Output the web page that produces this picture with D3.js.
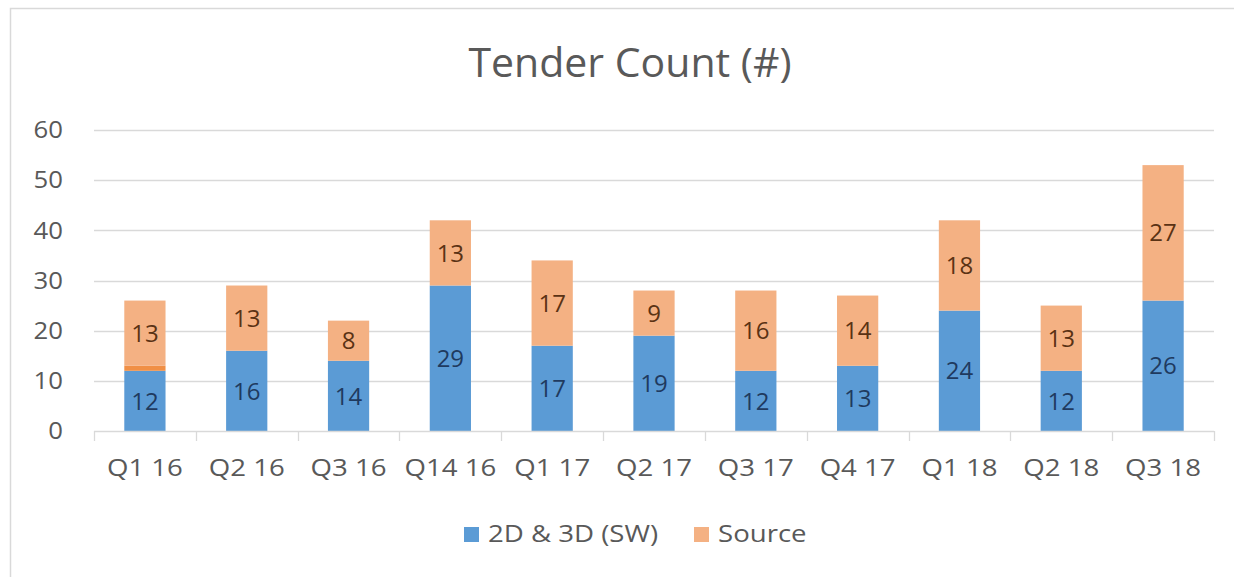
<!DOCTYPE html>
<html>
<head>
<meta charset="utf-8">
<script src="https://cdn.jsdelivr.net/npm/d3@7"></script>
<style>
  html, body { margin: 0; padding: 0; background: #fff; }
  svg { display: block; font-family: "Open Sans", "Noto Sans", sans-serif; }
</style>
</head>
<body>
<svg id="chart" width="1234" height="577"></svg>
<script>
(function(){

const WIDTH = 1234, HEIGHT = 577;

// data
const quarters = ['Q1 16','Q2 16','Q3 16','Q14 16','Q1 17','Q2 17','Q3 17','Q4 17','Q1 18','Q2 18','Q3 18'];
const swValues = [12, 16, 14, 29, 17, 19, 12, 13, 24, 12, 26];
const otherValues = [1, 0, 0, 0, 0, 0, 0, 0, 0, 0, 0];   // thin unlabelled segment, not in legend
const sourceValues = [13, 13, 8, 13, 17, 9, 16, 14, 18, 13, 27];
const yTicks = [0, 10, 20, 30, 40, 50, 60];

const series = [
  {key: 'sw', name: '2D & 3D (SW)', values: swValues, color: '#5b9bd5', label: '#1f3a5f', legend: true},
  {key: 'other', name: 'Other', values: otherValues, color: '#f08f45', label: null, legend: false},
  {key: 'source', name: 'Source', values: sourceValues, color: '#f4b183', label: '#5a3214', legend: true}
];

const rows = quarters.map((q, i) => {
  const r = {q};
  series.forEach(s => r[s.key] = s.values[i]);
  return r;
});
const stacked = d3.stack().keys(series.map(s => s.key))(rows);

const plot = {left: 94, right: 1214, top: 130, bottom: 431};

const x = d3.scaleBand().domain(quarters).range([plot.left, plot.right]).padding(0);
const y = d3.scaleLinear().domain([0, 60]).range([plot.bottom, plot.top]);
const barW = x.bandwidth() * 0.405;

const svg = d3.select('#chart');

// small text in the original renders wider than Open Sans, stretch it a bit
function wideText(sel, px, py, sx){
  return sel.append('text')
    .attr('transform', `translate(${px},${py}) scale(${sx},1)`);
}

// outer chart frame
svg.append('rect')
  .attr('x', 10.5).attr('y', 8.5)
  .attr('width', WIDTH + 20).attr('height', HEIGHT + 20)
  .attr('fill', '#fff').attr('stroke', '#d9d9d9').attr('stroke-width', 1.5);

// title
svg.append('text')
  .attr('x', 630).attr('y', 77)
  .attr('text-anchor', 'middle')
  .attr('font-size', 41)
  .attr('fill', '#595959')
  .text('Tender Count (#)');

// gridlines
svg.append('g')
  .selectAll('line')
  .data(yTicks.filter(t => t > 0))
  .join('line')
  .attr('x1', plot.left).attr('x2', plot.right)
  .attr('y1', d => Math.round(y(d)) + 0.5).attr('y2', d => Math.round(y(d)) + 0.5)
  .attr('stroke', '#d9d9d9').attr('stroke-width', 1.3);

// y axis labels
const yg = svg.append('g');
yTicks.forEach(t => {
  wideText(yg, 63, y(t), 1.12)
    .attr('text-anchor', 'end')
    .attr('dy', '0.36em')
    .attr('font-size', 23)
    .attr('fill', '#595959')
    .text(t);
});

// bars
const layers = svg.append('g')
  .selectAll('g')
  .data(stacked)
  .join('g')
  .attr('fill', (d, i) => series[i].color);

layers.selectAll('rect')
  .data(d => d)
  .join('rect')
  .attr('x', d => x(d.data.q) + x.bandwidth() / 2 - barW / 2)
  .attr('width', barW)
  .attr('y', d => y(d[1]))
  .attr('height', d => y(d[0]) - y(d[1]));

// data labels
stacked.forEach((layer, i) => {
  const s = series[i];
  if (!s.label) return;
  svg.append('g')
    .selectAll('text')
    .data(layer.filter(d => d[1] - d[0] > 0))
    .join('text')
    .attr('x', d => x(d.data.q) + x.bandwidth() / 2)
    .attr('y', d => (y(d[0]) + y(d[1])) / 2)
    .attr('dy', '0.36em')
    .attr('text-anchor', 'middle')
    .attr('font-size', 24)
    .attr('fill', s.label)
    .text(d => d[1] - d[0]);
});

// x axis line and ticks
const xAxis = svg.append('g')
  .attr('transform', `translate(0,${plot.bottom})`);
xAxis.append('line')
  .attr('x1', plot.left).attr('x2', plot.right)
  .attr('y1', 0.5).attr('y2', 0.5)
  .attr('stroke', '#d9d9d9').attr('stroke-width', 1.3);
const edges = quarters.map(q => x(q)).concat([plot.right]);
xAxis.selectAll('line.tick')
  .data(edges)
  .join('line')
  .attr('class', 'tick')
  .attr('x1', d => Math.round(d) + 0.5).attr('x2', d => Math.round(d) + 0.5)
  .attr('y1', 0).attr('y2', 10)
  .attr('stroke', '#d9d9d9').attr('stroke-width', 1.3);
quarters.forEach(q => {
  wideText(xAxis, x(q) + x.bandwidth() / 2, 45, 1.2)
    .attr('text-anchor', 'middle')
    .attr('font-size', 23)
    .attr('fill', '#595959')
    .text(q);
});

// legend
const legendItems = series.filter(s => s.legend);
const legendX = [464, 694];
const legend = svg.append('g');
legendItems.forEach((s, i) => {
  legend.append('rect')
    .attr('x', legendX[i]).attr('y', 527)
    .attr('width', 15).attr('height', 15)
    .attr('fill', s.color);
  wideText(legend, legendX[i] + 24, 542, 1.2)
    .attr('font-size', 23)
    .attr('fill', '#595959')
    .text(s.name);
});

})();
</script>
</body>
</html>
